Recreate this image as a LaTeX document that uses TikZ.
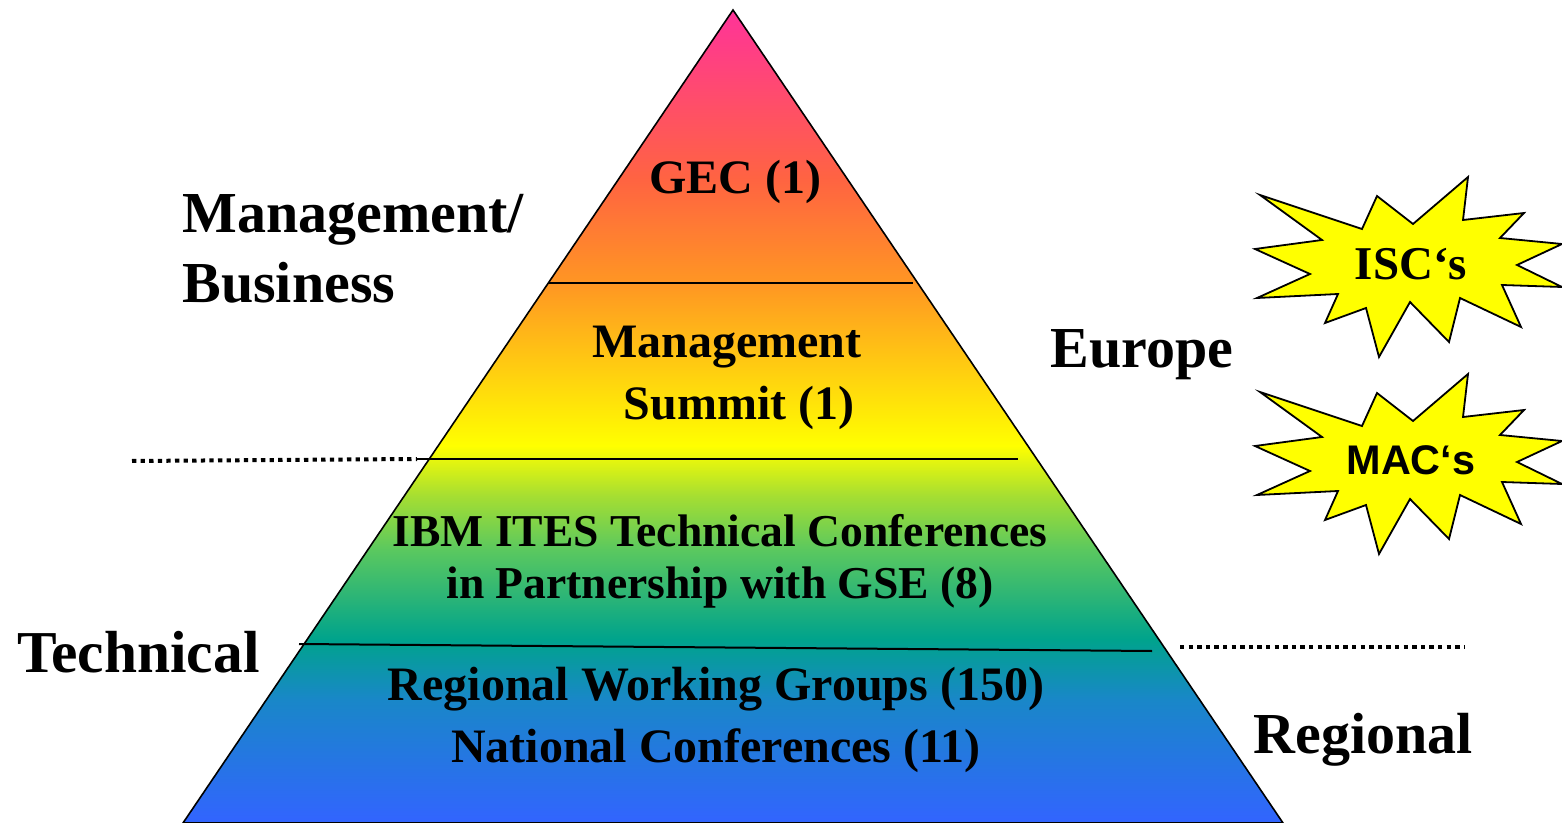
\documentclass[tikz,border=0pt]{standalone}
\usepackage{fontspec}
\setmainfont{Liberation Serif}
\newfontfamily\arialfont{Liberation Sans}
\definecolor{pyrpink}{RGB}{255,51,153}
\definecolor{pyrcoral}{RGB}{255,100,65}
\definecolor{pyrorange}{RGB}{255,150,35}
\definecolor{pyryellow}{RGB}{255,255,0}
\definecolor{pyrlime}{RGB}{165,222,50}
\definecolor{pyrgreen}{RGB}{90,200,95}
\definecolor{pyrteal}{RGB}{0,163,140}
\definecolor{pyrsteel}{RGB}{25,135,200}
\definecolor{pyrblue}{RGB}{50,100,255}
\definecolor{burstyellow}{RGB}{255,255,0}
\pgfdeclareverticalshading{pyramidshade}{100bp}{color(0bp)=(pyrblue); color(25bp)=(pyrblue); color(32.6bp)=(pyrsteel); color(36.3bp)=(pyrteal); color(41.8bp)=(pyrgreen); color(45.1bp)=(pyrlime); color(48.2bp)=(pyryellow); color(58.2bp)=(pyrorange); color(64.5bp)=(pyrcoral); color(75bp)=(pyrpink); color(100bp)=(pyrpink)}
\usetikzlibrary{positioning}

% starburst shape round a centre
\newcommand{\burstshape}[1]{%
  \draw[burst, shift={(#1)}] (-150,-70) -- (-48,-36) -- (-33,-69) -- (3,-41) -- (58,-88) -- (53,-45) -- (114,-52) -- (90,-27) -- (152,-21) -- (107,0) -- (152,22) -- (92,20) -- (111,62) -- (50,33) -- (39,77) -- (0,37) -- (-31,92) -- (-44,43) -- (-85,58) -- (-72,29) -- (-153,33) -- (-100,9) -- (-155,-16) -- (-88,-25) -- cycle;}

\begin{document}
\begin{tikzpicture}[x=0.5pt, y=-0.5pt,
    tier/.style={font=\fontsize{24}{31}\selectfont\bfseries, align=center, inner sep=0pt},
    side/.style={font=\fontsize{29}{35}\selectfont\bfseries, align=left, inner sep=0pt},
    layer/.style={line width=1pt},
    divider/.style={line width=2pt, dash pattern=on 2.15pt off 2.15pt},
    burst/.style={fill=burstyellow, draw=black, line width=0.9pt, line join=miter}]
    \useasboundingbox (0,0) rectangle (1562,823);

    % Pyramid
    \coordinate (apex) at (733,10);
    \coordinate (baseL) at (183,823);
    \coordinate (baseR) at (1283,823);
    \fill[shading=pyramidshade] (apex) -- (baseR) -- (baseL) -- cycle;
    \draw[line width=0.8pt, line join=miter] (apex) -- (baseR) -- (baseL) -- cycle;

    % Layer lines
    \coordinate (l1a) at (548,283);
    \coordinate (l1b) at (913,283);
    \coordinate (l2a) at (417,459);
    \coordinate (l2b) at (1018,459);
    \coordinate (l3a) at (299,644);
    \coordinate (l3b) at (1152,651);
    \draw[layer] (l1a) -- (l1b);
    \draw[layer] (l2a) -- (l2b);
    \draw[layer] (l3a) -- (l3b);

    % Dotted dividers
    \coordinate (d1a) at (132,461);
    \coordinate (d2a) at (1180,647);
    \coordinate (d2b) at (1465,647);
    \draw[divider] (d1a) -- (l2a);
    \draw[divider] (d2a) -- (d2b);

    % Tier texts (base = last line)
    \node[tier, anchor=base] (gec) at (735,194) {GEC (1)};
    \node[tier, anchor=base] (summit) at (727,419) {Management\\ \hspace*{0.5em}Summit (1)};
    \node[tier, anchor=base, font=\fontsize{22.8}{26}\selectfont\bfseries] (ites) at (720,598) {IBM ITES Technical Conferences\\in Partnership with GSE (8)};
    \node[tier, anchor=base] (rwg) at (716,762) {Regional Working Groups (150)\\National Conferences (11)};

    % Side labels
    \node[side, anchor=base west] (mgmt) at (182,303) {Management/\\Business};
    \node[side, anchor=base west, font=\fontsize{29.7}{35}\selectfont\bfseries] (tech) at (17,672) {Technical};
    \node[side, anchor=base west] (europe) at (1050,368) {Europe};
    \node[side, anchor=base west] (regional) at (1253,753) {Regional};

    % Starbursts
    \burstshape{1410,265}
    \burstshape{1410,462}
    \node[font=\fontsize{23.5}{28}\selectfont\bfseries, anchor=base, inner sep=0pt] (isc) at (1411,280) {ISC‘s};
    \node[font=\arialfont\fontsize{20.7}{25}\selectfont\bfseries, anchor=base, inner sep=0pt] (mac) at (1411,474) {MAC‘s};
\end{tikzpicture}
\end{document}
